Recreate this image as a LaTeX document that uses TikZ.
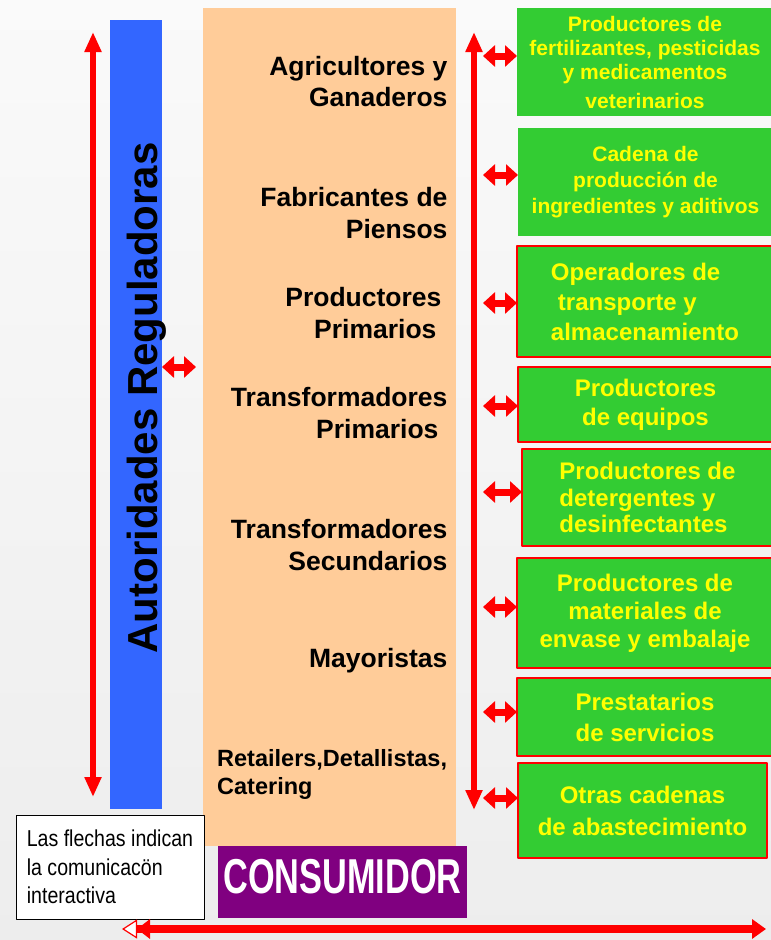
\documentclass[tikz,border=0pt]{standalone}
\usepackage{fontspec}
\setmainfont{Liberation Sans}
\newfontfamily\narrowfont[FakeStretch=0.85]{Liberation Sans}
\newfontfamily\condfont[FakeStretch=0.7]{Liberation Sans}
\usetikzlibrary{arrows.meta}
\definecolor{azul}{HTML}{3366FF}
\definecolor{melocoton}{HTML}{FFCC99}
\definecolor{verde}{HTML}{33CC33}
\definecolor{amarillo}{HTML}{FFFF00}
\definecolor{morado}{HTML}{800080}
\definecolor{rojo}{HTML}{FF0000}
\begin{document}
\begin{tikzpicture}[x=1pt,y=-1pt,line join=round,
	caja/.style={inner sep=0pt,outer sep=0pt,anchor=north west},
	verdebox/.style={caja,fill=verde,text=amarillo,align=center},
	borde/.style={draw=rojo,line width=1.6pt},
	eslabon/.style={font=\bfseries\fontsize{26.5}{31.5}\selectfont,align=right,anchor=east},
	flecha/.style={rojo,line width=6pt,{Triangle[width=16pt,length=20pt]}-{Triangle[width=16pt,length=20pt]}},
	enlace/.style={rojo,line width=7pt,{Triangle[width=21pt,length=12pt]}-{Triangle[width=21pt,length=12pt]}}]
		\useasboundingbox (0,0) rectangle (771,940);
		\shade[top color=white!98!black,bottom color=white!93!black] (0,0) rectangle (771,940);
		\node[caja,fill=azul,minimum width=52pt,minimum height=789pt] (blue) at (110,20){};
		\node[caja,fill=melocoton,minimum width=253pt,minimum height=838pt] (peach) at (203,8){};
		\node[rotate=90,anchor=base,font=\bfseries\fontsize{42}{42}\selectfont] (autor) at (157,398){Autoridades Reguladoras};
		\node[eslabon] (agri) at (451,81.5){Agricultores y\\Ganaderos};
		\node[eslabon] (fabr) at (451,213){Fabricantes de\\Piensos};
		\node[eslabon] (prodp) at (451,313){Productores\hspace*{6pt}\\Primarios\hspace*{11pt}};
		\node[eslabon] (trp) at (451,413){Transformadores\\Primarios\hspace*{9pt}};
		\node[eslabon] (trs) at (451,545){Transformadores\\Secundarios};
		\node[eslabon] (mayo) at (451,661){Mayoristas};
		\node[anchor=west,align=left,inner sep=0pt,font=\bfseries\fontsize{23.5}{28}\selectfont] (reta) at (217,774){Retailers,Detallistas,\\Catering};
		\node[verdebox,minimum width=256pt,minimum height=108pt,font=\bfseries\fontsize{21}{24}\selectfont] (g1) at (517,8){Productores de\\fertilizantes, pesticidas\\y medicamentos\\[5pt]veterinarios};
		\node[verdebox,minimum width=255pt,minimum height=108pt,font=\bfseries\fontsize{21}{26}\selectfont] (g2) at (518,128){Cadena de\\producción de\\ingredientes y aditivos};
		\node[verdebox,borde,align=left,minimum width=256pt,minimum height=111pt,font=\bfseries\fontsize{24}{30}\selectfont] (g3) at (517,246){Operadores de\\\hspace*{7pt}transporte y\\almacenamiento};
		\node[verdebox,borde,minimum width=255pt,minimum height=75pt,font=\bfseries\fontsize{24}{29}\selectfont] (g4) at (518,367){Productores\\de equipos};
		\node[verdebox,borde,align=left,minimum width=251pt,minimum height=97pt,font=\bfseries\fontsize{24}{26.5}\selectfont] (g5) at (522,449){Productores de\\detergentes y\\desinfectantes};
		\node[verdebox,borde,minimum width=256pt,minimum height=110pt,font=\bfseries\fontsize{24}{28}\selectfont] (g6) at (517,558){Productores de\\materiales de\\envase y embalaje};
		\node[verdebox,borde,minimum width=256pt,minimum height=78pt,font=\bfseries\fontsize{24}{31}\selectfont] (g7) at (517,678){Prestatarios\\de servicios};
		\node[verdebox,borde,minimum width=249pt,minimum height=95pt,font=\bfseries\fontsize{24}{32}\selectfont] (g8) at (518,763){Otras cadenas\\de abastecimiento};
		\node[caja,draw=black,fill=white,line width=1pt,minimum width=188pt,minimum height=104pt,align=left,font=\narrowfont\fontsize{23}{28.3}\selectfont] (nota) at (16,815){Las flechas indican\\la comunicacön\\interactiva};
		\node[caja,fill=morado,minimum width=249pt,minimum height=72pt,text=white,text depth=12pt,font=\condfont\bfseries\fontsize{49}{49}\selectfont] (cons) at (218,846){CONSUMIDOR};
		\coordinate (ltop) at (93,32);
		\coordinate (lbot) at (93,797);
		\draw[flecha] (ltop)--(lbot);
		\coordinate (rtop) at (474,32);
		\coordinate (rbot) at (474,810);
		\draw[flecha] (rtop)--(rbot);
		\coordinate (ab) at (blue.east |- 0,367);
		\draw[enlace,shorten >=7pt] (ab)--(ab -| peach.west);
		\coordinate (sp) at (483,0);
		\foreach \n/\dy in {1/6,2/7,3/-1.5,4/-1.5,5/5.5,6/6,7/5,8/12.5}{
			\coordinate (a\n) at ([yshift=\dy pt]g\n.west);
			\draw[enlace] (a\n -| sp)--(a\n);
		}
		\coordinate (bl) at (122,929);
		\coordinate (br) at (766,929);
		\draw[rojo,line width=8pt,{Triangle[fill=white,line width=1.2pt,width=19pt,length=15pt] Triangle[width=19pt,length=13pt]}-{Triangle[width=19pt,length=14pt]}] (bl)--(br);
		\end{tikzpicture}
\end{document}
